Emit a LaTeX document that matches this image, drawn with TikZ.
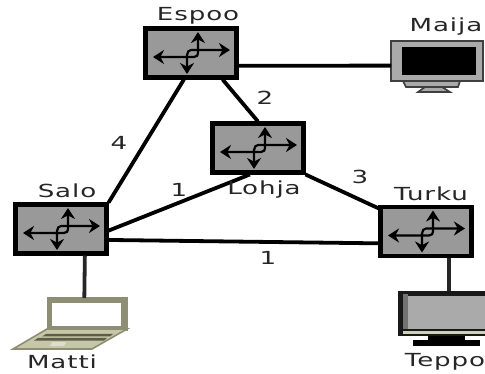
\documentclass[tikz,border=0pt]{standalone}
\usepackage{fontspec}
\setmainfont[FakeStretch=1.45,LetterSpace=5]{DejaVu Sans}
\usetikzlibrary{arrows.meta}
\definecolor{rgray}{HTML}{999999}
\definecolor{olive}{HTML}{8E8E74}
\definecolor{olivel}{HTML}{C6C6A8}
\definecolor{olived}{HTML}{5E5E48}
\definecolor{mgray}{HTML}{AAAAAA}
\tikzset{
  x=1pt,y=-1pt,
  routerbox/.style={draw=black,line width=4.5pt,fill=rgray,minimum width=91pt,minimum height=49pt,inner sep=0pt,outer sep=2pt},
  device/.style={inner sep=0pt,outer sep=0pt},
  lnk/.style={draw=black,line width=3.8pt},
  stub/.style={draw=black!85,line width=3.8pt},
  flow/.style={line width=2.2pt,{Stealth[length=11pt,width=14pt]}-{Stealth[length=11pt,width=14pt]}},
  lbl/.style={font=\fontsize{18}{21}\selectfont,text=black!85,inner sep=0pt},
  pics/routerflow/.style={code={
    \draw[flow] (-38,4) -- (3,4) .. controls (6,4) and (7,2) .. (7,0) -- (7,-21);
    \draw[flow] (-4,21) -- (-4,2) .. controls (-4,-1) and (-2,-3) .. (0,-3) -- (39,-3);
  }}
}
\newcommand{\routerat}[3]{%
  \node[routerbox] (#1) at (#2,#3) {};
  \pic at (#2,#3) {routerflow};
}
\begin{document}
\begin{tikzpicture}
\useasboundingbox (0,0) rectangle (485,374);
\clip (0,0) rectangle (485,374);
\fill[white] (0,0) rectangle (485,374);

\routerat{espoo}{191}{53}
\routerat{lohja}{258}{148}
\routerat{salo}{61}{229}
\routerat{turku}{426}{231.5}

% Maija: monitor
\node[device,minimum width=88pt,minimum height=40pt] (maija) at (435,61) {};
\fill[mgray,draw=black!75,line width=1.6pt] (403,81) -- (460,81) -- (458,87) -- (406,87) -- cycle;
\fill[mgray,draw=black!75,line width=1.6pt] (425,87) -- (442,87) -- (450,92) -- (418,92) -- cycle;
\fill[mgray,draw=black!75,line width=1.4pt] (391,41) rectangle (483,81);
\fill[black] (402,47) rectangle (476,75);

% Matti: laptop
\node[device,minimum width=80pt,minimum height=51pt] (matti) at (87,323.5) {};
\fill[olive] (47,297) rectangle (128,331);
\fill[white] (52,303) rectangle (121,326);
\fill[olivel,draw=olive,line width=1.6pt] (47,329) -- (127,329) -- (92,349) -- (13,349) -- cycle;
\fill[olived] (46,334) -- (113,334) -- (110,336.5) -- (42,336.5) -- cycle;
\fill[olived] (38,338) -- (107,338) -- (104,340.5) -- (34,340.5) -- cycle;
\fill[olivel!60!white] (52,342) -- (66,342) -- (64,346) -- (50,346) -- cycle;

% Teppo: flat display
\node[device,minimum width=102pt,minimum height=55pt] (teppo) at (449,318.5) {};
\fill[black!90] (398,291) rectangle (500,336);
\fill[black!55] (403,294) rectangle (408,329);
\fill[mgray] (408,296) rectangle (500,329);
\fill[olivel!80!white] (403,331) rectangle (500,334);
\fill[black] (428,336) rectangle (465,340);
\fill[black] (413,340) rectangle (480,346);

% Links
\draw[lnk] (espoo.-15.5) -- (maija.186.5);
\draw[lnk] (espoo.-40) -- (lohja.90);
\draw[lnk] (espoo.-105) -- (salo.29.5);
\draw[lnk] (lohja.-107) -- (salo.-2.5);
\draw[lnk] (lohja.south east) -- (turku.154);
\draw[lnk] (salo.-13.5) -- (turku.194);
\draw[stub] (salo.-48.5) -- (matti.96.7);
\draw[stub] (turku.-49) -- (teppo.north);

% Labels
\node[lbl] (tespoo) at (198,16) {Espoo};
\node[lbl] (tmaija) at (446,27) {Maija};
\node[lbl] (tsalo) at (67,191) {Salo};
\node[lbl] (tlohja) at (264,190) {Lohja};
\node[lbl] (tturku) at (431,194) {Turku};
\node[lbl] (tmatti) at (62,362) {Matti};
\node[lbl] (tteppo) at (445,362) {Teppo};
\node[lbl] (w4) at (119,143) {4};
\node[lbl] (w2) at (265,98) {2};
\node[lbl] (w1a) at (179,190) {1};
\node[lbl] (w3) at (360,177) {3};
\node[lbl] (w1b) at (268,258) {1};
\end{tikzpicture}
\end{document}
